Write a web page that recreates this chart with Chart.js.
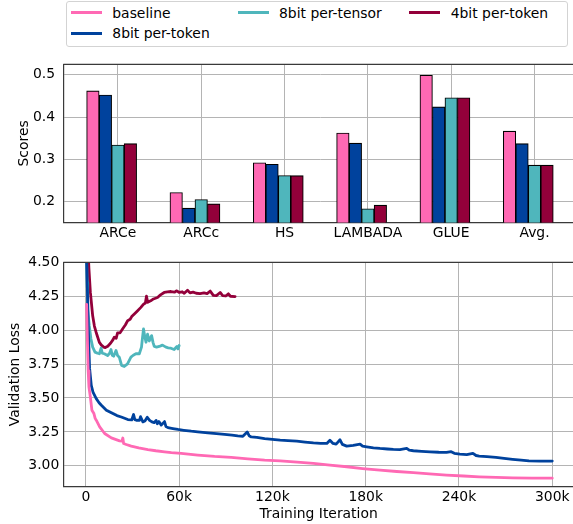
<!DOCTYPE html>
<html><head><meta charset="utf-8">
<script src="https://cdn.jsdelivr.net/npm/chart.js@4"></script>
<style>
html,body{margin:0;padding:0;background:#fff;}
body{width:573px;height:524px;overflow:hidden;position:relative;font-family:"DejaVu Sans",sans-serif;}
#top{position:absolute;left:0;top:0;}
#bot{position:absolute;left:0;top:250px;}
#legendBox{position:absolute;left:66px;top:1px;width:502px;height:46px;border:1px solid #d3d3d3;border-radius:3px;background:#fff;box-sizing:border-box;}
.handle{position:absolute;width:30.5px;height:3px;}
.lbl{position:absolute;font-family:"DejaVu Sans",sans-serif;font-size:13.9px;line-height:16px;white-space:nowrap;color:#000;}
</style></head>
<body>
<canvas id="top" width="600" height="250"></canvas>
<canvas id="bot" width="600" height="274"></canvas>
<div id="legendBox"></div>
<script>
// ---------- data: top chart ----------
const categories = ['ARCe','ARCc','HS','LAMBADA','GLUE','Avg.'];
const seriesNames = ['baseline','8bit per-token','8bit per-tensor','4bit per-token'];
const baselineScores   = [0.462, 0.221, 0.2915, 0.362, 0.499, 0.3665];
const perToken8Scores  = [0.452, 0.184, 0.288, 0.338, 0.424, 0.337];
const perTensor8Scores = [0.3335, 0.2045, 0.2615, 0.1825, 0.4455, 0.286];
const perToken4Scores  = [0.337, 0.194, 0.261, 0.191, 0.4455, 0.286];
const scoreTicks = [0.2, 0.3, 0.4, 0.5];
const scoreTickLabels = ['0.2', '0.3', '0.4', '0.5'];

// ---------- data: bottom chart (iterations in thousands) ----------
const iterTicks = [0, 60, 120, 180, 240, 300];
const iterTickLabels = ['0', '60k', '120k', '180k', '240k', '300k'];
const lossTicks = [3.00, 3.25, 3.50, 3.75, 4.00, 4.25, 4.50];
const lossTickLabels = ['3.00', '3.25', '3.50', '3.75', '4.00', '4.25', '4.50'];

const baselineIter = [0.5,1.0,1.5,2.0,2.9,3.9,5.2,6.0,6.7,8.9,12.1,16.4,21.7,23.2,23.8,24.3,26,29.2,34,39.9,45,50.6,55,61.3,72,82.8,93.5,104.2,115,125,136,146.4,157,167.8,178,189.2,200,210.7,221,232,243,253,264,274.5,287,300];
const baselineLoss = [4.19,3.93,3.70,3.58,3.507,3.41,3.385,3.35,3.336,3.287,3.238,3.206,3.184,3.182,3.205,3.165,3.157,3.145,3.132,3.12,3.111,3.103,3.097,3.091,3.079,3.069,3.062,3.051,3.042,3.037,3.027,3.018,3.005,2.993,2.980,2.968,2.958,2.949,2.940,2.932,2.925,2.919,2.914,2.911,2.909,2.909];

const perToken8Iter = [0.3,1.0,1.6,2.4,3.5,4.6,6.7,8.5,10,13.2,17.4,20,22.8,27,29.5,30.7,31.5,32.5,34.5,35.2,36.7,38,39.5,41,42.5,44,45.2,46,47,48.5,50.6,51.5,52.8,56,59.2,63,67.8,72,78.5,84,89.2,94,97.7,101,103.8,105,106.4,110,115,120,125,130,135.7,141,146.4,151,155,157,159,161,163.5,165,167.8,172,176.4,178,180.7,185,189.2,194,197.8,202,206.4,208,210.7,216,221.4,227,232,235,237,240.6,245,249,251,253,258,263.8,269,274.5,280,285,292,300];
const perToken8Loss = [4.6,4.3,4.0,3.72,3.593,3.544,3.495,3.465,3.446,3.41,3.385,3.37,3.36,3.341,3.338,3.378,3.34,3.336,3.335,3.362,3.324,3.33,3.358,3.335,3.324,3.318,3.335,3.31,3.326,3.30,3.326,3.29,3.282,3.275,3.268,3.262,3.255,3.25,3.243,3.237,3.231,3.226,3.221,3.218,3.25,3.222,3.213,3.21,3.201,3.195,3.189,3.186,3.182,3.175,3.169,3.166,3.165,3.189,3.165,3.16,3.192,3.158,3.145,3.15,3.16,3.145,3.14,3.133,3.128,3.124,3.121,3.12,3.128,3.115,3.111,3.107,3.103,3.10,3.099,3.104,3.092,3.086,3.083,3.092,3.076,3.072,3.067,3.062,3.055,3.048,3.042,3.037,3.035,3.035];

const perTensor8Iter = [0.3,0.8,1.2,2.2,3.3,4.4,5.9,7.5,8.7,9.8,10.6,11.9,14,15.3,16.2,17.0,17.9,19.4,20.4,21.5,23,24.7,26.8,29,30.5,32.2,34.4,35.8,36.5,37.1,37.8,38.7,39.7,40.8,42.3,43.2,44,45.5,47.2,49.3,51.5,53,54.7,56.8,57.8,58.6,59.3,60];
const perTensor8Loss = [4.6,4.35,4.155,4.033,3.935,3.875,3.838,3.83,3.826,3.867,3.83,3.826,3.813,3.83,3.857,3.815,3.808,3.85,3.813,3.801,3.74,3.732,3.752,3.801,3.815,3.826,3.826,3.875,3.95,4.009,3.96,3.911,3.97,3.92,3.96,3.91,3.88,3.875,3.88,3.89,3.875,3.87,3.867,3.857,3.87,3.88,3.862,3.887];

const perToken4Iter = [1.0,2.0,2.9,4.4,5.5,6.6,8.7,10,11.5,12.5,14.1,16,17.5,18.3,19.5,20.4,22,23.6,25.5,26.9,28.5,29.5,31.2,33,35.4,37,38.3,39.0,39.8,41.7,43.5,46.1,48,50.4,52.5,54.7,57,58.5,60.1,62,63.3,65.4,67,69,71,73.5,76,78,80,82,84,86.4,88,90,91.7,93,96];
const perToken4Loss = [4.7,4.45,4.28,4.106,4.03,3.985,3.91,3.89,3.875,3.872,3.882,3.905,3.93,3.948,3.94,3.98,3.98,4.009,4.04,4.07,4.08,4.10,4.119,4.14,4.168,4.19,4.20,4.25,4.205,4.216,4.23,4.241,4.26,4.278,4.282,4.285,4.28,4.29,4.278,4.283,4.272,4.294,4.275,4.28,4.272,4.27,4.275,4.27,4.288,4.257,4.255,4.278,4.255,4.252,4.268,4.25,4.248];

// ---------- styling ----------
const colors = ['#ff69b4', '#00429d', '#4fb6bc', '#93003a'];
const FONT = {family: '"DejaVu Sans", sans-serif', size: 13.9};
const SPINE = '#3a3a3a';
const GRID = '#b4b4b4';

const framePlugin = {
  id: 'frame',
  afterDraw(chart) {
    const {ctx, chartArea: a} = chart;
    ctx.save();
    ctx.strokeStyle = SPINE; ctx.lineWidth = 1.2;
    ctx.beginPath();
    ctx.moveTo(a.left, a.top); ctx.lineTo(a.right, a.top); ctx.lineTo(a.right, a.bottom);
    ctx.stroke();
    ctx.restore();
  }
};

// ---------- legend (HTML text) ----------
const legendSlots = [
  {hx: 71, tx: 112.3, hy: 12.7},
  {hx: 71, tx: 112.3, hy: 33.3},
  {hx: 238.3, tx: 279, hy: 12.7},
  {hx: 409.3, tx: 450.7, hy: 12.7}
];
seriesNames.forEach((name, k) => {
  const s = legendSlots[k];
  const h = document.createElement('div');
  h.className = 'handle';
  h.style.left = s.hx + 'px'; h.style.top = (s.hy - 1.5) + 'px'; h.style.background = colors[k];
  document.body.appendChild(h);
  const t = document.createElement('div');
  t.className = 'lbl';
  t.textContent = name;
  t.style.left = s.tx + 'px'; t.style.top = (s.hy - 8) + 'px';
  document.body.appendChild(t);
});

// ---------- top chart: bars ----------
const scoreSeries = [baselineScores, perToken8Scores, perTensor8Scores, perToken4Scores];
new Chart(document.getElementById('top'), {
  type: 'bar',
  data: {
    datasets: scoreSeries.map((vals, k) => ({
      label: seriesNames[k],
      data: vals.map((v, i) => ({x: i + (k - 2) * 0.15, y: v})),
      backgroundColor: colors[k],
      borderColor: '#000',
      borderWidth: 1.1,
      grouped: false,
      barPercentage: 1,
      categoryPercentage: 1
    }))
  },
  options: {
    responsive: false, animation: false, events: [],
    layout: {padding: {left: 0, top: 64.3, right: 23.4, bottom: 0}},
    plugins: {legend: {display: false}, tooltip: {enabled: false}},
    scales: {
      x: {
        type: 'linear', min: -0.655, max: 5.505, offset: false,
        afterBuildTicks: s => { s.ticks = categories.map((c, i) => ({value: i})); },
        afterFit: s => { s.height = 27.5; },
        ticks: {callback: (v, i) => categories[i], font: FONT, color: '#000', padding: 2.5, maxRotation: 0, autoSkip: false},
        grid: {color: GRID, lineWidth: 1, drawTicks: false, offset: false},
        border: {color: SPINE, width: 1.2}
      },
      y: {
        min: 0.15, max: 0.525, z: 1,
        afterBuildTicks: s => { s.ticks = scoreTicks.map(v => ({value: v})); },
        afterFit: s => { s.width = 63.3; },
        ticks: {callback: (v, i) => scoreTickLabels[i], font: FONT, color: '#000', padding: 8.3},
        grid: {color: GRID, lineWidth: 1, drawTicks: false},
        border: {color: SPINE, width: 1.2},
        title: {display: true, text: 'Scores', font: FONT, color: '#000', padding: {top: 16.2, bottom: 0}}
      }
    }
  },
  plugins: [framePlugin]
});

// ---------- bottom chart: lines ----------
const lossSeries = [
  [baselineIter, baselineLoss],
  [perToken8Iter, perToken8Loss],
  [perTensor8Iter, perTensor8Loss],
  [perToken4Iter, perToken4Loss]
];
new Chart(document.getElementById('bot'), {
  type: 'line',
  data: {
    datasets: lossSeries.map(([xs, ys], k) => ({
      label: seriesNames[k],
      data: xs.map((x, i) => ({x: x, y: ys[i]})),
      borderColor: colors[k],
      backgroundColor: colors[k],
      borderWidth: 2.8,
      pointRadius: 0,
      tension: 0,
      borderJoinStyle: 'round',
      borderCapStyle: 'round',
      fill: false
    }))
  },
  options: {
    responsive: false, animation: false, events: [],
    layout: {padding: {left: 0, top: 11, right: 26, bottom: 0}},
    plugins: {legend: {display: false}, tooltip: {enabled: false}},
    scales: {
      x: {
        type: 'linear', min: -14.5, max: 314,
        afterBuildTicks: s => { s.ticks = iterTicks.map(v => ({value: v})); },
        afterFit: s => { s.height = 37.3; },
        ticks: {callback: (v, i) => iterTickLabels[i], font: FONT, color: '#000', padding: 2, maxRotation: 0, autoSkip: false},
        grid: {color: GRID, lineWidth: 1, drawTicks: false},
        border: {color: SPINE, width: 1.2},
        title: {display: true, text: 'Training Iteration', font: FONT, color: '#000', padding: {top: 0, bottom: 1.7}}
      },
      y: {
        min: 2.846, max: 4.50,
        afterBuildTicks: s => { s.ticks = lossTicks.map(v => ({value: v})); },
        afterFit: s => { s.width = 63.3; },
        ticks: {callback: (v, i) => lossTickLabels[i], font: FONT, color: '#000', padding: 4},
        grid: {color: GRID, lineWidth: 1, drawTicks: false},
        border: {color: SPINE, width: 1.2},
        title: {display: true, text: 'Validation Loss', font: FONT, color: '#000', padding: {top: 7.5, bottom: 0}}
      }
    }
  },
  plugins: [framePlugin]
});
</script>
</body></html>
